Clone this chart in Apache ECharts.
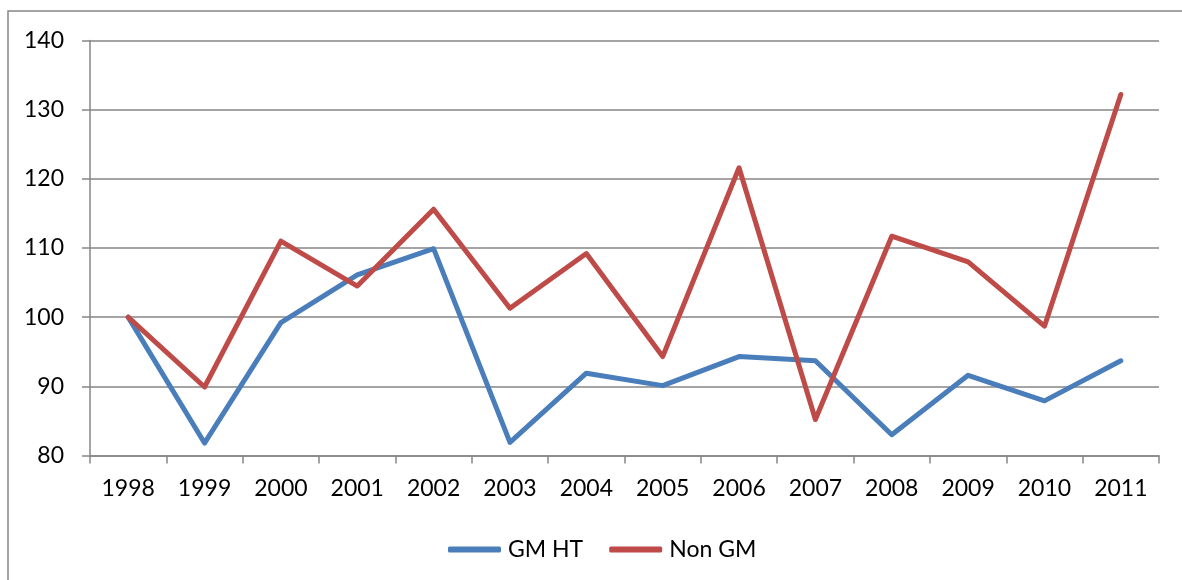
<!DOCTYPE html>
<html>
<head>
<meta charset="utf-8">
<script src="https://cdn.jsdelivr.net/npm/echarts@6/dist/echarts.min.js"></script>
<style>
  html, body { margin: 0; padding: 0; background: #fff; }
  #chart { width: 1182px; height: 580px; }
</style>
</head>
<body>
<div id="chart"></div>
<script>
// data
var years = ['1998', '1999', '2000', '2001', '2002', '2003', '2004', '2005', '2006', '2007', '2008', '2009', '2010', '2011'];
var gmHT = [100, 81.8, 99.2, 106.1, 109.9, 81.9, 91.9, 90.1, 94.3, 93.7, 83.0, 91.6, 87.9, 93.7];
var nonGM = [100, 89.9, 111.0, 104.5, 115.6, 101.3, 109.2, 94.3, 121.6, 85.2, 111.7, 108.0, 98.7, 132.2];

var axisGray = '#868686';
var font = 'Lato, "Open Sans", sans-serif';

var chart = echarts.init(document.getElementById('chart'));
chart.setOption({
    animation: false,
    backgroundColor: '#fff',
    graphic: [{
        type: 'rect',
        shape: { x: 8, y: 11, width: 1200, height: 600 },
        style: { fill: 'none', stroke: axisGray, lineWidth: 1.5 },
        silent: true
    }],
    grid: {
        left: 90,
        right: 23,
        top: 40.5,
        bottom: 124.5
    },
    legend: {
        left: 443,
        top: 533,
        itemWidth: 53,
        itemHeight: 6,
        itemGap: 26,
        icon: 'roundRect',
        textStyle: { fontFamily: font, fontSize: 23, color: '#000', padding: [0, 0, 0, 2] },
        data: ['GM HT', 'Non GM']
    },
    xAxis: {
        type: 'category',
        data: years,
        boundaryGap: true,
        axisLine: { lineStyle: { color: axisGray, width: 1.5 } },
        axisTick: { show: true, length: 8, inside: false, lineStyle: { color: axisGray, width: 1.5 } },
        axisLabel: { fontFamily: font, fontSize: 23, color: '#000', margin: 22, interval: 0 },
        splitLine: { show: false }
    },
    yAxis: {
        type: 'value',
        min: 80,
        max: 140,
        interval: 10,
        axisLine: { show: true, lineStyle: { color: axisGray, width: 1.5 } },
        axisTick: { show: true, length: 8, lineStyle: { color: axisGray, width: 1.5 } },
        axisLabel: { fontFamily: font, fontSize: 23, color: '#000', margin: 26 },
        splitLine: { show: true, lineStyle: { color: axisGray, width: 1.5 } }
    },
    series: [{
        name: 'GM HT',
        type: 'line',
        data: gmHT,
        symbol: 'none',
        color: '#4A7EBB',
        lineStyle: { width: 5, color: '#4A7EBB', cap: 'round', join: 'round' }
    }, {
        name: 'Non GM',
        type: 'line',
        data: nonGM,
        symbol: 'none',
        color: '#BE4B48',
        lineStyle: { width: 5, color: '#BE4B48', cap: 'round', join: 'round' }
    }]
});
</script>
</body>
</html>
